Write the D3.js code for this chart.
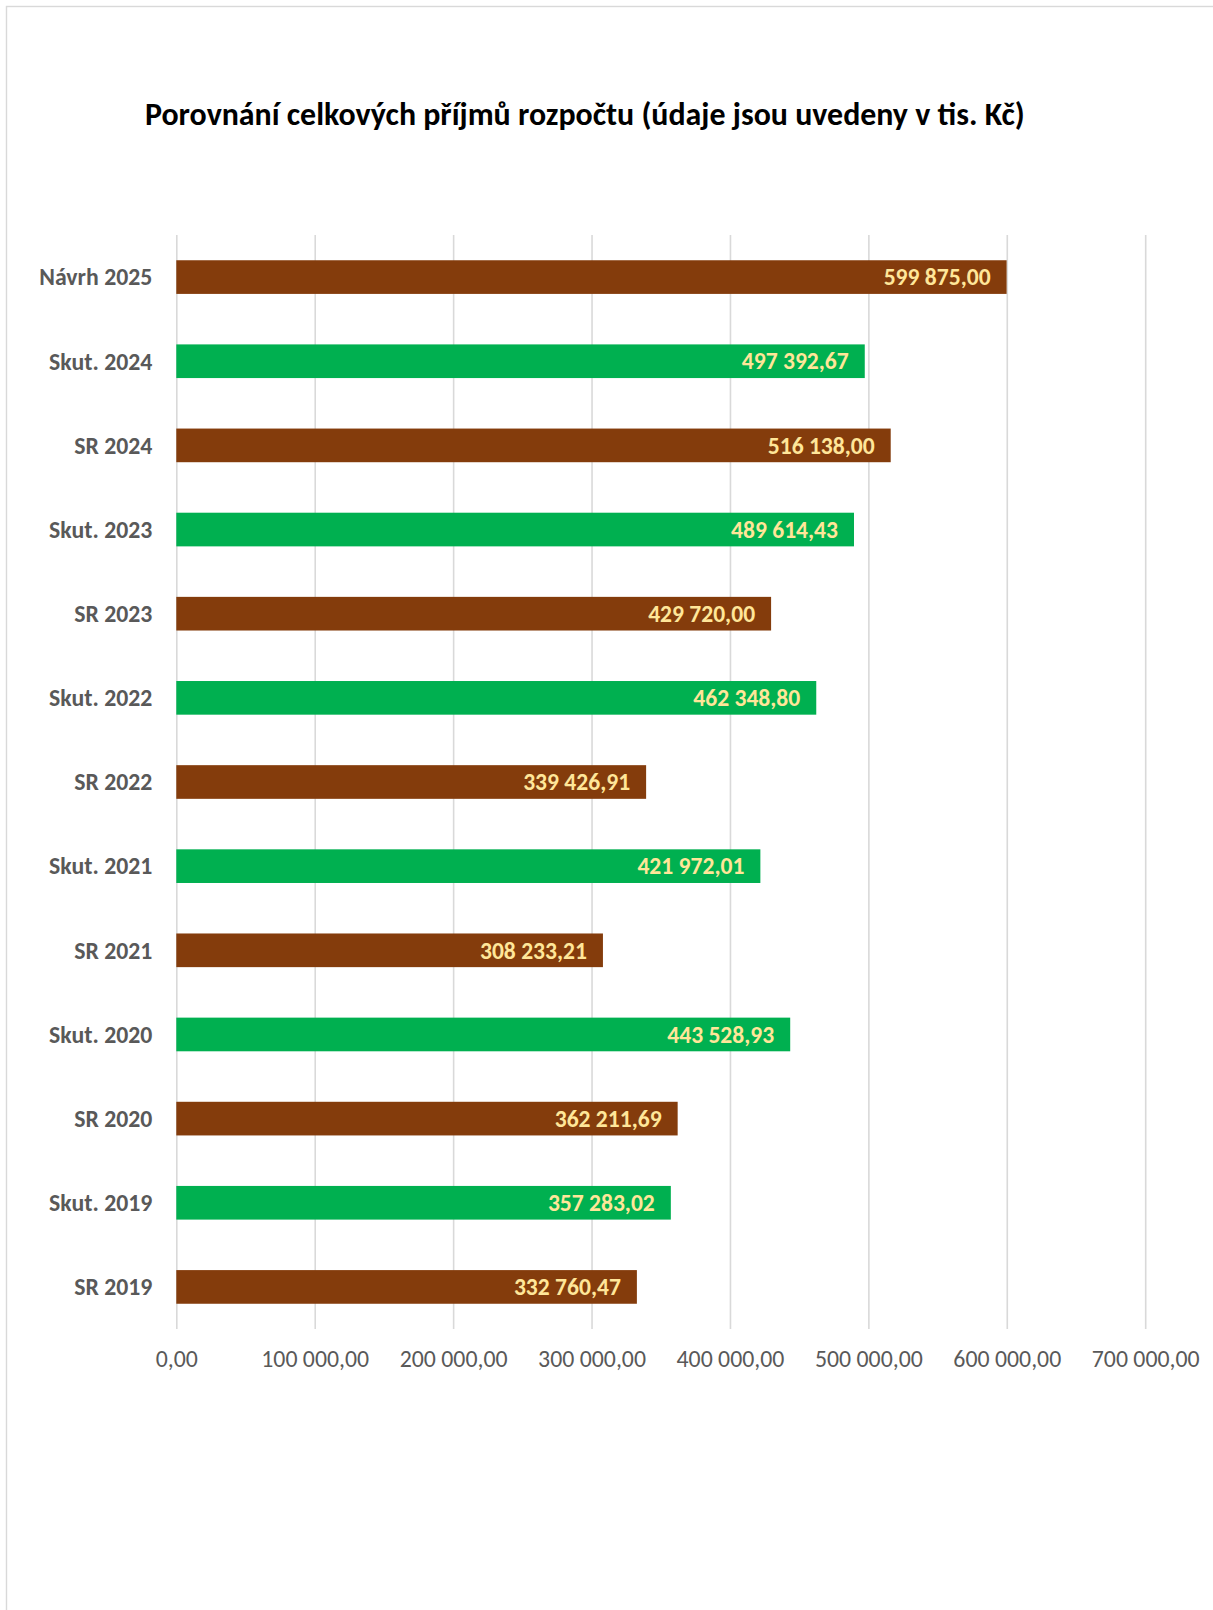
<!DOCTYPE html>
<html>
<head>
<meta charset="utf-8">
<script src="https://cdn.jsdelivr.net/npm/d3@7"></script>
<style>
  html, body { margin: 0; padding: 0; background: #fff; }
  svg { display: block; }
</style>
</head>
<body>
<script>
// ---- data ----
const categories = ["Návrh 2025", "Skut. 2024", "SR 2024", "Skut. 2023", "SR 2023", "Skut. 2022", "SR 2022",
                    "Skut. 2021", "SR 2021", "Skut. 2020", "SR 2020", "Skut. 2019", "SR 2019"];
const values = [599875.00, 497392.67, 516138.00, 489614.43, 429720.00, 462348.80, 339426.91,
                421972.01, 308233.21, 443528.93, 362211.69, 357283.02, 332760.47];
const seriesType = ["SR", "Skut", "SR", "Skut", "SR", "Skut", "SR", "Skut", "SR", "Skut", "SR", "Skut", "SR"];
const tickValues = [0, 100000, 200000, 300000, 400000, 500000, 600000, 700000];
const title = "Porovnání celkových příjmů rozpočtu (údaje jsou uvedeny v tis. Kč)";

// ---- styles ----
const W = 1213, H = 1610;
const colors = { SR: "#843C0C", Skut: "#00B050" };
const labelColor = "#FFE699";
const textGrey = "#595959";
const gridColor = "#D9D9D9";
const FONT = "Calibri, Carlito, Lato, 'Open Sans', sans-serif";

const plot = { left: 176.3, right: 1145.2, top: 235, bottom: 1329 };

const locale = d3.formatLocale({ decimal: ",", thousands: " ", grouping: [3], currency: ["", " Kč"] });
const fmt = locale.format(",.2f");

const svg = d3.select("body").append("svg").attr("width", W).attr("height", H);

// frame
svg.append("rect").attr("x", 6.5).attr("y", 6.5).attr("width", 1400).attr("height", 1800)
  .attr("fill", "#fff").attr("stroke", gridColor).attr("stroke-width", 1.4);

const x = d3.scaleLinear().domain([0, 700000]).range([plot.left, plot.right]);
const y = d3.scaleBand().domain(categories).range([plot.top, plot.bottom]).paddingInner(0.6).paddingOuter(0.3);

// helper to fit font size to a target width
function fitSize(sel, target) {
  const w = sel.node().getComputedTextLength();
  const fs = parseFloat(sel.attr("font-size"));
  return fs * target / w;
}

// gridlines via axis
const grid = svg.append("g").attr("transform", `translate(0,${plot.bottom})`)
  .call(d3.axisBottom(x).tickValues(tickValues).tickSize(-(plot.bottom - plot.top)).tickFormat(""));
grid.select(".domain").remove();
grid.selectAll(".tick line").attr("stroke", gridColor).attr("stroke-width", 1.6);

// tick labels
const axis = svg.append("g").attr("transform", `translate(0,${plot.bottom})`)
  .call(d3.axisBottom(x).tickValues(tickValues).tickSize(0).tickPadding(0).tickFormat(d => fmt(d)));
axis.select(".domain").remove();
axis.selectAll(".tick text").attr("font-family", FONT).attr("font-size", 20).attr("fill", textGrey)
  .attr("dy", null).attr("y", 38).attr("dominant-baseline", "alphabetic");
{
  const last = axis.selectAll(".tick text").filter(d => d === 700000);
  const fs = fitSize(last, 108);
  axis.selectAll(".tick text").attr("font-size", fs);
}

// bars
svg.append("g").selectAll("rect").data(categories).join("rect")
  .attr("x", x(0))
  .attr("y", d => y(d))
  .attr("width", (d, i) => x(values[i]) - x(0))
  .attr("height", y.bandwidth())
  .attr("fill", (d, i) => colors[seriesType[i]]);

// category labels
const cat = svg.append("g").selectAll("text").data(categories).join("text")
  .attr("x", plot.left - 24)
  .attr("y", d => y(d) + y.bandwidth() / 2)
  .attr("dy", "0.35em")
  .attr("text-anchor", "end")
  .attr("font-family", FONT).attr("font-weight", "bold").attr("font-size", 20)
  .attr("fill", textGrey)
  .text(d => d);
{
  const first = cat.filter((d, i) => i === 0);
  cat.attr("font-size", fitSize(first, 113));
}

// value labels
const vl = svg.append("g").selectAll("text").data(categories).join("text")
  .attr("x", (d, i) => x(values[i]) - 16)
  .attr("y", d => y(d) + y.bandwidth() / 2)
  .attr("dy", "0.35em")
  .attr("text-anchor", "end")
  .attr("font-family", FONT).attr("font-weight", "bold").attr("font-size", 20)
  .attr("fill", labelColor)
  .text((d, i) => fmt(values[i]));
{
  const first = vl.filter((d, i) => i === 0);
  vl.attr("font-size", fitSize(first, 107));
}

// title
const t = svg.append("text").attr("x", 145).attr("y", 125)
  .attr("font-family", FONT).attr("font-weight", "bold").attr("font-size", 26)
  .attr("fill", "#000").text(title);
t.attr("font-size", fitSize(t, 880));
</script>
</body>
</html>
